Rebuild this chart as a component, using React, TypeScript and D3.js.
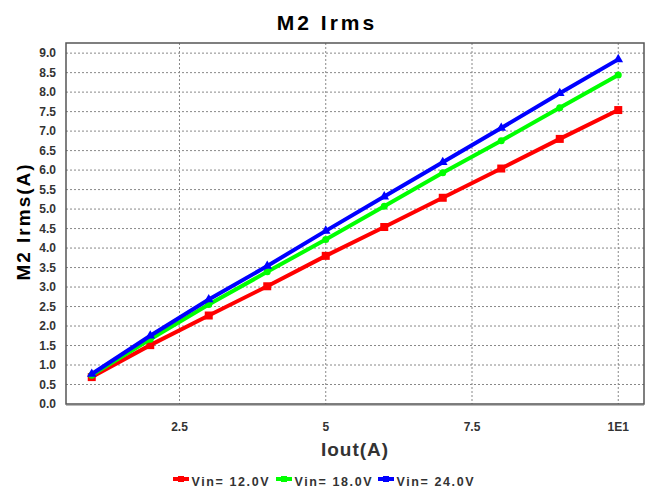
import React, { useRef, useEffect } from "react";
import * as d3 from "d3";

const iout = [1, 2, 3, 4, 5, 6, 7, 8, 9, 10];
const vin12 = [0.69, 1.51, 2.27, 3.02, 3.8, 4.54, 5.29, 6.04, 6.8, 7.54];
const vin18 = [0.74, 1.66, 2.55, 3.39, 4.22, 5.07, 5.93, 6.75, 7.6, 8.44];
const vin24 = [0.77, 1.75, 2.68, 3.54, 4.44, 5.32, 6.2, 7.08, 7.97, 8.84];
const seriesNames = ["Vin= 12.0V", "Vin= 18.0V", "Vin= 24.0V"];
const seriesColors = ["#ff0000", "#00ff00", "#0000ff"];
const xTicks = [2.5, 5, 7.5, 10];
const xTickLabels = ["2.5", "5", "7.5", "1E1"];
const yTicks = d3.range(0, 9.01, 0.5);

const App = () => {
  const svgRef = useRef<SVGSVGElement>(null);

  useEffect(() => {
    const W = 652, H = 493;
    const margin = { top: 43, right: 8, bottom: 89, left: 66 };
    const width = W - margin.left - margin.right;
    const height = H - margin.top - margin.bottom;
    const svg = d3.select(svgRef.current);
    svg.selectAll("*").remove();
    svg.attr("width", W).attr("height", H);
    const font = "'Liberation Sans', Arial, sans-serif";

    const x = d3.scaleLinear().domain([0.56, 10.44]).range([0, width]);
    const y = d3.scaleLinear().domain([0, 9.26]).range([height, 0]);

    const g = svg.append("g").attr("transform", `translate(${margin.left},${margin.top})`);

    // grid
    g.selectAll(".hg").data(yTicks.slice(1)).join("line")
      .attr("x1", 0).attr("x2", width)
      .attr("y1", d => y(d)).attr("y2", d => y(d))
      .attr("stroke", "#888").attr("stroke-dasharray", "2,2").attr("stroke-width", 1);
    g.selectAll(".vg").data(xTicks).join("line")
      .attr("y1", 0).attr("y2", height)
      .attr("x1", d => x(d)).attr("x2", d => x(d))
      .attr("stroke", "#888").attr("stroke-dasharray", "2,2").attr("stroke-width", 1);

    // tick labels
    g.selectAll(".yt").data(yTicks).join("text")
      .attr("x", -10).attr("y", d => y(d)).attr("dy", "0.35em")
      .attr("text-anchor", "end")
      .attr("font-family", font).attr("font-weight", "bold").attr("font-size", 12)
      .attr("fill", "#333")
      .text(d => d.toFixed(1));
    g.selectAll(".xt").data(xTicks).join("text")
      .attr("x", d => x(d)).attr("y", height + 27)
      .attr("text-anchor", "middle")
      .attr("font-family", font).attr("font-weight", "bold").attr("font-size", 12)
      .attr("fill", "#333")
      .text((d, i) => xTickLabels[i]);

    const all = [vin12, vin18, vin24];
    const line = d3.line<number>().x((d, i) => x(iout[i])).y(d => y(d));

    all.forEach((vals, si) => {
      const c = seriesColors[si];
      g.append("path").datum(vals)
        .attr("fill", "none").attr("stroke", c).attr("stroke-width", 4)
        .attr("d", line);
      const pts = g.append("g");
      vals.forEach((v, i) => {
        const px = x(iout[i]), py = y(v);
        if (si === 0) {
          pts.append("rect").attr("x", px - 4).attr("y", py - 4).attr("width", 8).attr("height", 8).attr("fill", c);
        } else if (si === 1) {
          pts.append("circle").attr("cx", px).attr("cy", py).attr("r", 3.5).attr("fill", c);
        } else {
          pts.append("path").attr("d", d3.symbol(d3.symbolTriangle, 40)()).attr("transform", `translate(${px},${py})`).attr("fill", c);
        }
      });
    });

    // border
    g.append("rect").attr("x", 0).attr("y", 0).attr("width", width).attr("height", height)
      .attr("fill", "none").attr("stroke", "#555").attr("stroke-width", 1.5);
    g.append("line").attr("x1", 0).attr("x2", width).attr("y1", height + 1).attr("y2", height + 1)
      .attr("stroke", "#777").attr("stroke-width", 1);

    // titles
    svg.append("text").attr("x", 327).attr("y", 30).attr("text-anchor", "middle")
      .attr("font-family", font).attr("font-weight", "bold").attr("font-size", 21)
      .attr("letter-spacing", 3).attr("fill", "#000").text("M2 Irms");
    svg.append("text").attr("x", margin.left + width / 2).attr("y", 456).attr("text-anchor", "middle")
      .attr("font-family", font).attr("font-weight", "bold").attr("font-size", 19)
      .attr("letter-spacing", 1).attr("fill", "#333").text("Iout(A)");
    svg.append("text").attr("transform", `translate(30,${margin.top + height / 2 - 2}) rotate(-90)`)
      .attr("text-anchor", "middle")
      .attr("font-family", font).attr("font-weight", "bold").attr("font-size", 19)
      .attr("letter-spacing", 2).attr("fill", "#000").text("M2 Irms(A)");

    // legend
    const lg = svg.append("g").attr("transform", "translate(173,479)");
    const starts = [0, 103, 205];
    seriesNames.forEach((n, i) => {
      const it = lg.append("g").attr("transform", `translate(${starts[i]},0)`);
      it.append("line").attr("x1", 0).attr("x2", 16).attr("y1", 0).attr("y2", 0)
        .attr("stroke", seriesColors[i]).attr("stroke-width", 4);
      it.append("rect").attr("x", 5).attr("y", -3).attr("width", 6).attr("height", 6).attr("fill", seriesColors[i]);
      it.append("text").attr("x", 18.5).attr("y", 6.5)
        .attr("font-family", font).attr("font-weight", "bold").attr("font-size", 12.5)
        .attr("letter-spacing", 1.6).attr("fill", "#333").text(n);
    });
  }, []);

  return <svg ref={svgRef} style={{ display: "block", position: "absolute", left: 0, top: 0 }} />;
};

export default App;
